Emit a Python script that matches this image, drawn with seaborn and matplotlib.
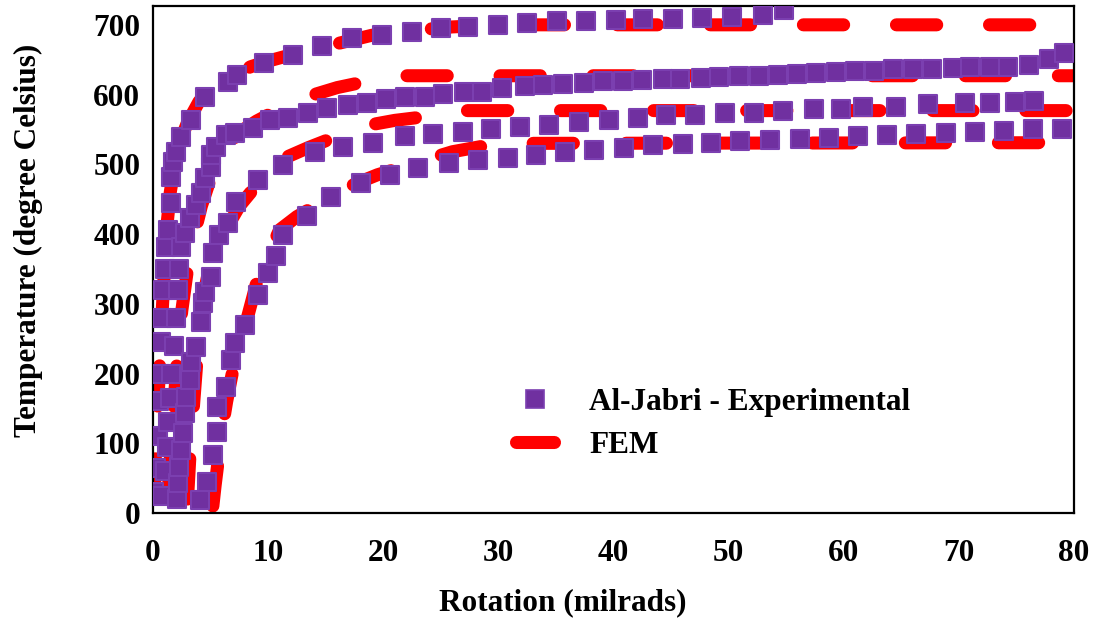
import matplotlib
matplotlib.use("Agg")
import matplotlib.pyplot as plt
import seaborn as sns
import pandas as pd
from matplotlib.lines import Line2D

# ---------------- data ----------------
exp_a_x = [0.1, 0.3, 0.4, 0.5, 0.6, 0.7, 0.8, 0.9, 1.0, 1.1, 1.3, 1.6, 1.6, 1.7, 2.0, 2.4, 3.3, 4.5,
           6.5, 7.3, 9.6, 12.2, 14.7, 17.3, 19.9, 22.5, 25.0, 27.4, 30.0, 32.5, 35.1, 37.6, 40.2,
           42.6, 45.2, 47.7, 50.3, 53.0, 54.8]
exp_a_t = [30, 65, 110, 160, 200, 245, 280, 320, 350, 382, 406, 445, 482, 504, 518, 539, 564, 597,
           618, 628, 645, 657, 669, 681, 686, 690, 696, 697, 700, 703, 705, 706, 707,
           709, 709, 710, 711, 714, 721]

exp_b_x = [0.8, 1.0, 1.2, 1.3, 1.5, 1.6, 1.8, 2.0, 2.2, 2.3, 2.4, 2.8, 3.2, 3.7, 4.2, 4.5, 5.0, 5.0,
           5.5, 6.3, 7.1, 8.7, 10.2, 11.7, 13.5, 15.1, 16.9, 18.6, 20.2, 21.9, 23.6, 25.2, 27.0,
           28.6, 30.3, 32.3, 33.9, 35.6, 37.4, 39.1, 40.8, 42.5, 44.3, 45.8, 47.6, 49.2, 50.9,
           52.6, 54.3, 55.9, 57.6, 59.3, 61.0, 62.6, 64.3, 66.0, 67.7, 69.5, 71.0, 72.7, 74.3,
           76.1, 77.8, 79.1]
exp_b_t = [25, 60, 95, 130, 165, 200, 240, 280, 320, 350, 382, 402, 423, 442, 459, 481, 496, 514,
           525, 542, 545, 552, 564, 567, 574, 581, 585, 588, 594, 597, 597, 601, 603,
           604, 610, 612, 614, 615, 617, 619, 620, 621, 623, 623, 624, 625, 626,
           627, 628, 630, 631, 632, 634, 634, 636, 637, 637, 638, 640, 640, 640,
           643, 651, 660]

exp_c_x = [2.1, 2.2, 2.3, 2.4, 2.6, 2.8, 2.9, 3.2, 3.3, 3.7, 4.2, 4.3, 4.5, 5.0, 5.2, 5.7, 6.5, 7.2,
           9.1, 11.3, 14.1, 16.5, 19.1, 21.9, 24.3, 26.9, 29.4, 31.9, 34.4, 37.0, 39.6, 42.1,
           44.6, 47.1, 49.7, 52.2, 54.7, 57.4, 59.8, 61.7, 64.5, 67.3, 70.5, 72.7, 74.9, 76.5]
exp_c_t = [20, 43, 66, 90, 115, 143, 166, 191, 216, 238, 274, 301, 317, 339, 373, 399, 416, 446,
           478, 499, 518, 525, 531, 541, 544, 547, 551, 554, 557, 560, 563, 566,
           571, 571, 574, 574, 577, 579, 579, 582, 582, 587, 588, 588, 590, 591]

exp_d_x = [4.1, 4.7, 5.2, 5.6, 5.6, 6.3, 6.8, 7.1, 8.0, 9.1, 10.0, 10.7, 11.3, 13.4, 15.5, 18.1,
           20.6, 23.0, 25.7, 28.2, 30.8, 33.3, 35.8, 38.3, 40.9, 43.4, 46.0, 48.5, 51.0, 53.6,
           56.2, 58.7, 61.2, 63.8, 66.3, 68.9, 71.4, 73.9, 76.4, 79.0]
exp_d_t = [19, 44, 83, 116, 152, 181, 219, 244, 270, 313, 344, 369, 399, 426, 453, 473,
           485, 495, 502, 506, 509, 514, 517, 521, 523, 527, 529, 531, 534, 535,
           537, 538, 540, 542, 544, 545, 547, 548, 550, 551]

fem_a_x = [0.1, 0.2, 0.4, 0.6, 0.8, 1.0, 1.2, 1.5, 1.9, 2.4, 3.0, 4.0, 5.5, 7.0, 8.5, 10, 12, 14,
           16, 19, 22, 26, 30, 35, 80]
fem_a_t = [20, 70, 150, 220, 290, 350, 410, 460, 500, 535, 560, 590, 615, 628, 640, 648, 657, 665,
           673, 685, 691, 697, 700, 700, 700]

fem_b_x = [1.3, 1.5, 1.8, 2.1, 2.5, 3.0, 3.6, 4.2, 5.0, 6.0, 7.4, 9.0, 10.5, 12, 14, 16, 18, 20,
           22, 80]
fem_b_t = [20, 80, 150, 220, 290, 350, 400, 440, 480, 515, 545, 562, 575, 587, 600, 610, 617, 622,
           627, 627]

fem_c_x = [3.0, 3.2, 3.5, 3.8, 4.1, 4.5, 5.0, 5.6, 6.2, 6.8, 7.5, 8.5, 10, 11.7, 13.5, 15.2, 17,
           19, 21, 23.5, 26, 80]
fem_c_t = [20, 80, 150, 215, 270, 320, 360, 390, 405, 420, 440, 460, 490, 511, 524, 535, 545,
           557, 563, 568, 577, 577]

fem_d_x = [5.2, 5.4, 5.7, 6.0, 6.4, 7.0, 7.6, 8.2, 9.0, 10, 11, 12.5, 14.3, 16, 18, 19.5, 21.7,
           24, 26, 28, 30, 80]
fem_d_t = [10, 40, 80, 120, 160, 210, 245, 280, 330, 370, 406, 425, 442, 460, 475, 485, 496,
           508, 518, 524, 530, 531]

x_ticks = [0, 10, 20, 30, 40, 50, 60, 70, 80]
y_ticks = [0, 100, 200, 300, 400, 500, 600, 700]
exp_label = "Al-Jabri - Experimental"
fem_label = "FEM"
x_label = "Rotation (milrads)"
y_label = "Temperature (degree Celsius)"

exp_df = pd.concat([
    pd.DataFrame({"x": exp_a_x, "t": exp_a_t, "s": "A"}),
    pd.DataFrame({"x": exp_b_x, "t": exp_b_t, "s": "B"}),
    pd.DataFrame({"x": exp_c_x, "t": exp_c_t, "s": "C"}),
    pd.DataFrame({"x": exp_d_x, "t": exp_d_t, "s": "D"}),
], ignore_index=True)
fem_series = [(fem_a_x, fem_a_t), (fem_b_x, fem_b_t), (fem_c_x, fem_c_t), (fem_d_x, fem_d_t)]

# ---------------- style ----------------
sns.set_theme(style="white")
plt.rcParams["font.family"] = ["Liberation Serif", "DejaVu Serif"]
plt.rcParams["font.weight"] = "bold"
plt.rcParams["lines.scale_dashes"] = False
for k in ["text.color", "axes.labelcolor", "xtick.color", "ytick.color"]:
    plt.rcParams[k] = "black"

PURPLE = "#7030A0"
EDGE = "#7b3fb0"
RED = "#FF0000"
LW = 9.4
DASH = (0, (29, 38))
FS = 22.5

fig = plt.figure(figsize=(10.94, 6.20), dpi=100)
ax = fig.add_axes([153 / 1094, 1 - 513 / 620, (1074 - 153) / 1094, (513 - 6) / 620])

for fx, ft in fem_series:
    sns.lineplot(x=fx, y=ft, ax=ax, sort=False, estimator=None, color=RED,
                 linewidth=LW, legend=False)
for ln in ax.get_lines():
    ln.set_linestyle(DASH)
    ln.set_dash_capstyle("round")
    ln.set_solid_capstyle("round")

sns.scatterplot(data=exp_df, x="x", y="t", ax=ax, marker="s", s=160, color=PURPLE,
                edgecolor=EDGE, linewidth=1.5, legend=False, zorder=3)
for coll in ax.collections:
    coll.set_joinstyle("round")

ax.set_xlim(0, 80)
ax.set_ylim(0, 727)
ax.set_xticks(x_ticks)
ax.set_yticks(y_ticks)
ax.tick_params(axis="x", length=0, labelsize=FS, pad=19)
ax.tick_params(axis="y", length=0, labelsize=FS, pad=9)
for lab in ax.get_xticklabels() + ax.get_yticklabels():
    lab.set_fontweight("bold")
ax.set_xlabel(x_label, fontsize=FS, fontweight="bold", va="center")
ax.set_ylabel(y_label, fontsize=FS, fontweight="bold", va="center")
ax.xaxis.set_label_coords((563 - 153) / 921, (513 - 603) / 507)
ax.yaxis.set_label_coords((28 - 153) / 921, (513 - 240) / 507)
for sp in ax.spines.values():
    sp.set_color("black")
    sp.set_linewidth(1.6)
    sp.set_visible(True)
ax.grid(False)

h_exp = Line2D([], [], linestyle="none", marker="s", markersize=12.5, color=PURPLE,
               markeredgecolor=EDGE, markeredgewidth=1.2)
h_fem = Line2D([], [], color=RED, linewidth=LW, solid_capstyle="round")
ax.legend([h_exp, h_fem], [exp_label, fem_label], loc="upper left",
          bbox_to_anchor=((516 - 153) / 921, (513 - 388) / 507), frameon=False,
          handlelength=1.2, borderpad=0, borderaxespad=0,
          prop={"size": FS, "weight": "bold"}, labelspacing=0.45, handletextpad=1.15)

fig.savefig("out.png", dpi=100)
